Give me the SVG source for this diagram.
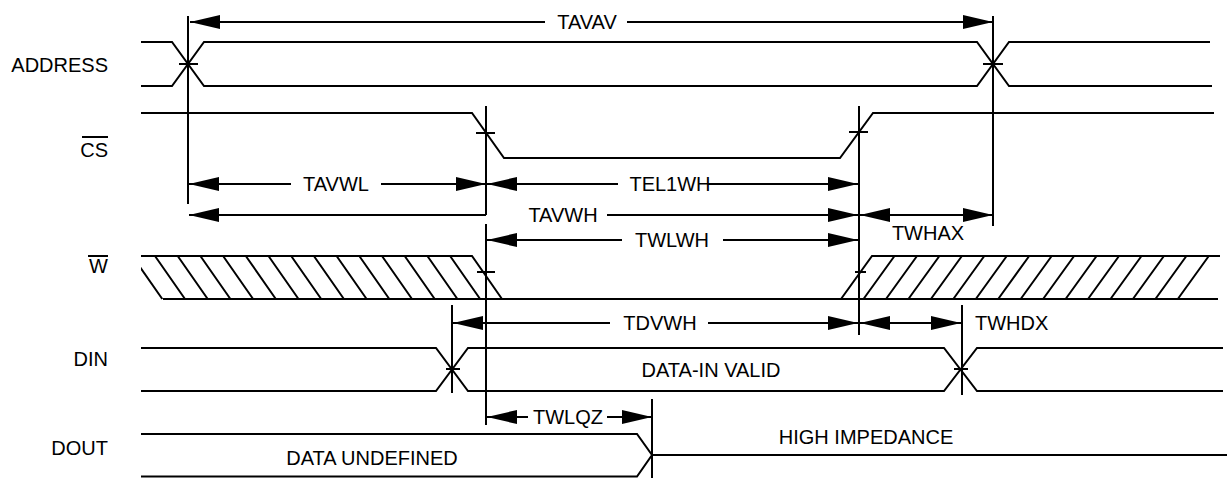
<svg xmlns="http://www.w3.org/2000/svg" width="1230" height="478" viewBox="0 0 1230 478">
<style>
.w{fill:none;stroke:#000;stroke-width:2;stroke-linejoin:miter}
.h{fill:none;stroke:#000;stroke-width:2}
.d{fill:none;stroke:#000;stroke-width:2}
.t{font-family:"Liberation Sans",Arial,sans-serif;font-size:20px;fill:#000}
.m{text-anchor:middle}
.e{text-anchor:end}
</style>
<defs>
<marker id="ah" markerUnits="userSpaceOnUse" markerWidth="30" markerHeight="14" viewBox="0 0 30 14" refX="30" refY="7" orient="auto-start-reverse">
<path d="M0,0 L30,7 L0,14 z" fill="#000"/>
</marker>
<clipPath id="clipL"><rect x="141" y="250" width="400" height="55"/></clipPath>
</defs>
<rect width="1230" height="478" fill="#fff"/>

<g id="address">
<text class="t e" x="108" y="72">ADDRESS</text>
<path class="w" d="M141,42 H172 L204,86 H977 L1009,42 H1210"/>
<path class="w" d="M141,86 H172 L204,42 H977 L1009,86 H1212"/>
<path class="w" d="M179,64 H198 M983,64 H1003"/>
</g>

<g id="cs">
<text class="t e" x="108" y="157">CS</text>
<path class="w" d="M82,137 H108"/>
<path class="w" d="M141,113 H472 L504,158 H840 L873,113 H1214"/>
<path class="w" d="M476,133 H495 M849,132 H868"/>
</g>

<g id="w">
<text class="t e" x="108" y="273">W</text>
<path class="w" d="M88,256 H108"/>
<path class="w" d="M141,256 H472 L502,299 M163,299 H1218 M841,299 L872,256 H1220"/>
<g clip-path="url(#clipL)">
<path class="h" d="M132.3,256 L162.3,299 M155,256 L185,299 M177.7,256 L207.7,299 M200.4,256 L230.4,299 M223.1,256 L253.1,299 M245.8,256 L275.8,299 M268.5,256 L298.5,299 M291.2,256 L321.2,299 M313.9,256 L343.9,299 M336.6,256 L366.6,299 M359.3,256 L389.3,299 M382,256 L412,299 M404.7,256 L434.7,299 M427.4,256 L457.4,299 M450.1,256 L480.1,299"/>
</g>
<path class="h" d="M894.5,256 L863.5,299 M917,256 L886,299 M939.4,256 L908.4,299 M961.9,256 L930.9,299 M984.3,256 L953.3,299 M1006.8,256 L975.8,299 M1029.2,256 L998.2,299 M1051.7,256 L1020.7,299 M1074.1,256 L1043.1,299 M1096.6,256 L1065.6,299 M1119,256 L1088,299 M1141.5,256 L1110.5,299 M1163.9,256 L1132.9,299 M1186.4,256 L1155.4,299 M1208.8,256 L1177.8,299"/>
<path class="w" d="M477,272 H495 M855,272 H866"/>
</g>

<g id="din">
<text class="t e" x="108" y="366">DIN</text>
<path class="w" d="M141,348 H436 L468,391 H944 L977,348 H1223"/>
<path class="w" d="M141,391 H436 L468,348 H944 L977,391 H1223"/>
<path class="w" d="M446,369 H460 M954,369 H968"/>
<text class="t m" x="711" y="377">DATA-IN VALID</text>
</g>

<g id="dout">
<text class="t e" x="108" y="455">DOUT</text>
<path class="w" d="M141,434 H637 L652,455 L637,476.5 H141 M652,455 H1227"/>
<text class="t m" x="372" y="465">DATA UNDEFINED</text>
<text class="t m" x="866" y="444">HIGH IMPEDANCE</text>
</g>

<g id="connectors">
<path class="d" d="M188,16 V204 M993,16 V226 M486,106 V215 M486,224 V425 M859,106 V335 M452,305 V393 M962,305 V395 M652,399 V478"/>

<path class="d" d="M190,22 H545" marker-start="url(#ah)"/>
<path class="d" d="M627,22 H993" marker-end="url(#ah)"/>
<text class="t m" x="587" y="29">TAVAV</text>

<path class="d" d="M189,184 H291" marker-start="url(#ah)"/>
<path class="d" d="M381,184 H486" marker-end="url(#ah)"/>
<text class="t m" x="336" y="191">TAVWL</text>

<path class="d" d="M487,184 H618" marker-start="url(#ah)"/>
<path class="d" d="M708,184 H858" marker-end="url(#ah)"/>
<text class="t m" x="670" y="191">TEL1WH</text>

<path class="d" d="M189,215 H486" marker-start="url(#ah)"/>
<path class="d" d="M607,215 H858" marker-end="url(#ah)"/>
<text class="t m" x="563" y="222">TAVWH</text>

<path class="d" d="M860,215 H993" marker-start="url(#ah)" marker-end="url(#ah)"/>
<text class="t m" x="928" y="240">TWHAX</text>

<path class="d" d="M487,240 H622" marker-start="url(#ah)"/>
<path class="d" d="M723,240 H858" marker-end="url(#ah)"/>
<text class="t m" x="672" y="247">TWLWH</text>

<path class="d" d="M453,323 H610" marker-start="url(#ah)"/>
<path class="d" d="M708,323 H858" marker-end="url(#ah)"/>
<text class="t m" x="660" y="330">TDVWH</text>

<path class="d" d="M860,323 H961" marker-start="url(#ah)" marker-end="url(#ah)"/>
<text class="t" x="975" y="330">TWHDX</text>

<path class="d" d="M487,417 H528" marker-start="url(#ah)"/>
<path class="d" d="M607,417 H652" marker-end="url(#ah)"/>
<text class="t m" x="568" y="424">TWLQZ</text>
</g>
</svg>
